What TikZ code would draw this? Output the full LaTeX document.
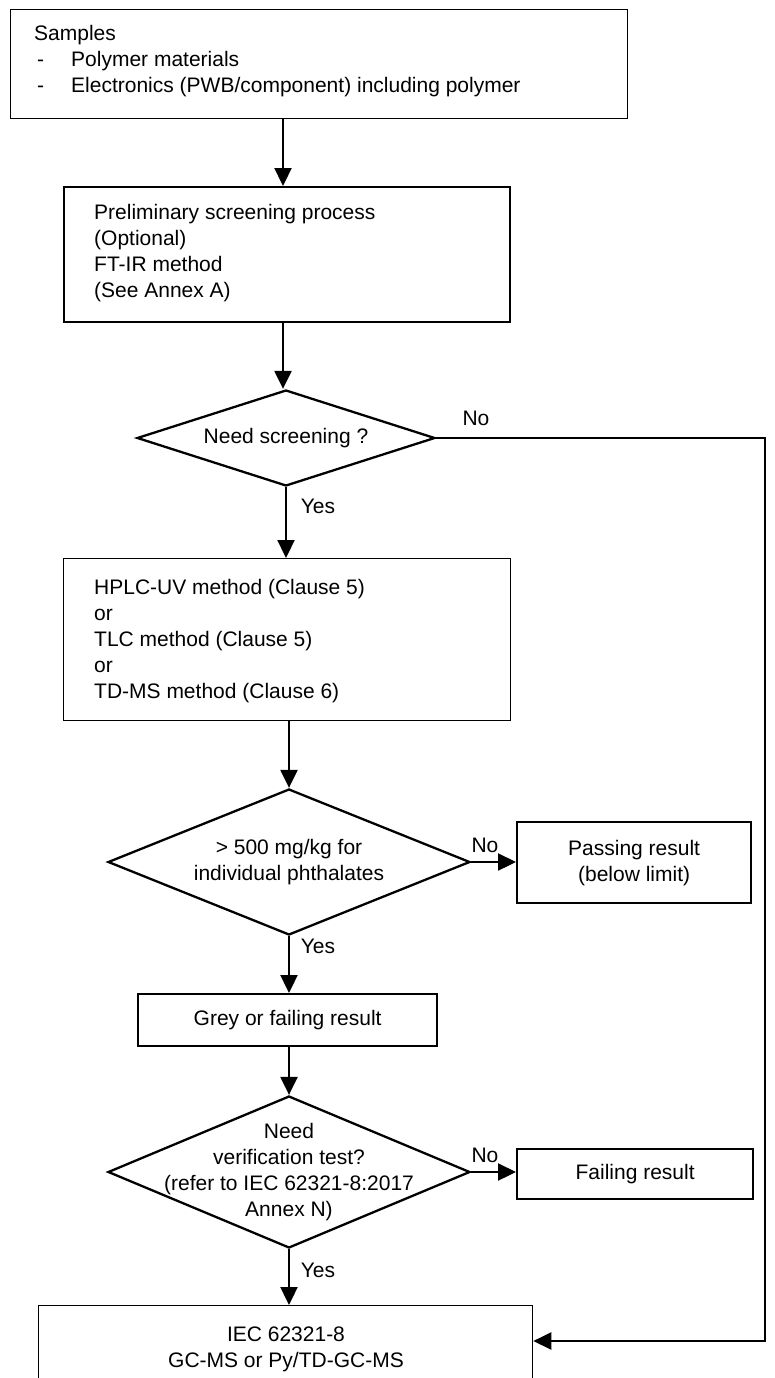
\documentclass[tikz,border=0pt]{standalone}
\usepackage{fontspec}
\setmainfont{Liberation Sans}
\usetikzlibrary{arrows.meta,shapes.geometric}
\begin{document}
\begin{tikzpicture}[x=1pt,y=-1pt,
  every node/.style={font=\fontsize{21pt}{26pt}\selectfont, inner sep=0pt},
  thinbox/.style={draw, line width=1.3pt, inner sep=0pt, anchor=north west},
  thickbox/.style={draw, line width=2.3pt, inner sep=0pt, anchor=north west},
  dia/.style={draw, diamond, line width=2.3pt, inner sep=0pt},
  txt/.style={align=left, anchor=west},
  ctxt/.style={align=center},
  lbl/.style={},
  arr/.style={line width=2.3pt, -{Triangle[length=18pt,width=17pt]}},
  conn/.style={line width=2.3pt}
]
\useasboundingbox (0,0) rectangle (775,1378);

% boxes
\node[thinbox, minimum width=617pt, minimum height=109pt] (b1) at (10,9) {};
\node[txt] (t1) at (34,61) {Samples\\\makebox[37pt][l]{\hspace{3pt}-}Polymer materials\\\makebox[37pt][l]{\hspace{3pt}-}Electronics (PWB/component) including polymer};

\node[thickbox, minimum width=446pt, minimum height=135pt] (b2) at (63,186) {};
\node[txt] (t2) at (94,253) {Preliminary screening process\\(Optional)\\FT-IR method\\(See Annex A)};

\node[dia, minimum width=298pt, minimum height=96pt] (d1) at (286,438) {};
\node[ctxt] (t3) at (d1) {Need screening ?};

\node[thinbox, minimum width=447pt, minimum height=162pt] (b3) at (63,558) {};
\node[txt] (t4) at (94,641) {HPLC-UV method (Clause 5)\\or\\TLC method (Clause 5)\\or\\TD-MS method (Clause 6)};

\node[dia, minimum width=362pt, minimum height=146pt] (d2) at (289,862) {};
\node[ctxt] (t5) at (d2) {> 500 mg/kg for\\individual phthalates};

\node[thickbox, minimum width=234pt, minimum height=81pt] (pass) at (516,821) {};
\node[ctxt] (t6) at (pass) {Passing result\\(below limit)};

\node[thickbox, minimum width=299pt, minimum height=52pt] (grey) at (137,993) {};
\node[ctxt] (t7) at (grey) {Grey or failing result};

\node[dia, minimum width=362pt, minimum height=152pt] (d3) at (289,1172) {};
\node[ctxt] (t8) at (d3) {Need\\verification test?\\(refer to IEC 62321-8:2017\\Annex N)};

\node[thickbox, minimum width=236pt, minimum height=50pt] (fail) at (516,1148) {};
\node[ctxt] (t9) at (fail) {Failing result};

\node[thinbox, minimum width=494pt, minimum height=120pt] (iec) at (38,1305) {};
\node[ctxt] (t10) at (286,1349) {IEC 62321-8\\GC-MS or Py/TD-GC-MS};

% connectors
\coordinate (c1) at (283,0);
\coordinate (rr) at (765,0);
\draw[arr] (b1.south -| c1) -- (b2.north -| c1);
\draw[arr] (b2.south -| c1) -- (d1.north -| c1);
\draw[arr] (d1.south) -- (b3.north -| d1.south);
\draw[arr] (b3.south -| d2.north) -- (d2.north);
\draw[arr] (d2.east) -- (pass.west |- d2.east);
\draw[arr] (d2.south) -- (grey.north -| d2.south);
\draw[arr] (grey.south -| d3.north) -- (d3.north);
\draw[arr] (d3.east) -- (fail.west |- d3.east);
\draw[arr] (d3.south) -- (iec.north -| d3.south);
\coordinate (ret) at (0,1341);
\draw[arr] (d1.east) -- (d1.east -| rr) -- (ret -| rr) -- (ret -| iec.east);

% labels
\node[lbl] (n1) at (476,418) {No};
\node[lbl] (y1) at (318,506) {Yes};
\node[lbl] (n2) at (485,845) {No};
\node[lbl] (y2) at (318,946) {Yes};
\node[lbl] (n3) at (485,1155) {No};
\node[lbl] (y3) at (318,1270) {Yes};
\end{tikzpicture}
\end{document}
